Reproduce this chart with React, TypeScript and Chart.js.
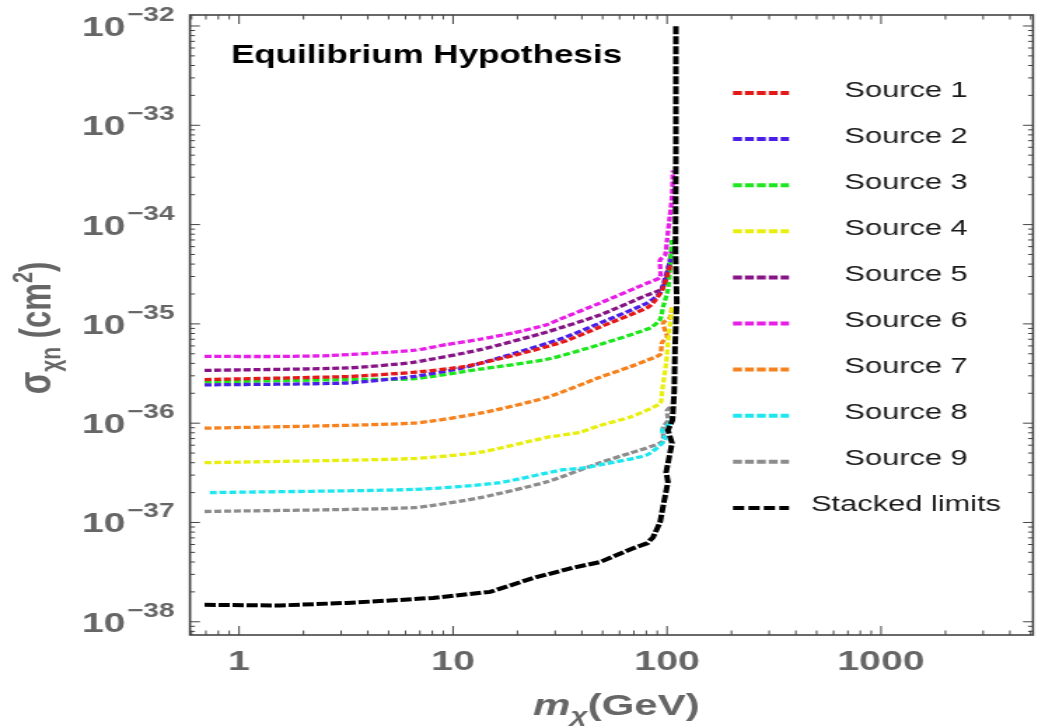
import React, { useEffect, useRef } from "react";
import { Chart, registerables } from "chart.js";

Chart.register(...registerables);

// ---------------- data ----------------
const LABELS = [
  "Source 1", "Source 2", "Source 3", "Source 4", "Source 5",
  "Source 6", "Source 7", "Source 8", "Source 9", "Stacked limits",
];

const source1Mass = [0.69, 3.2, 6.5, 11.1, 19.1, 32.7, 48.6, 80.6, 86, 95, 104];
const source1Sigma = [2.75e-36, 2.95e-36, 3.25e-36, 3.7e-36, 4.8e-36, 6.6e-36, 9.3e-36, 1.45e-35, 1.62e-35, 2.2e-35, 4e-35];

const source2Mass = [0.69, 3.2, 6.5, 11.1, 19.1, 32.7, 48.6, 80.6, 92.7, 96, 104];
const source2Sigma = [2.43e-36, 2.54e-36, 2.95e-36, 3.6e-36, 5.0e-36, 7.2e-36, 1.02e-35, 1.62e-35, 2.04e-35, 2.5e-35, 4.5e-35];

const source3Mass = [0.69, 3.2, 6.5, 13.4, 27.5, 48.6, 83.3, 92.7, 95.8, 101, 103, 105.5];
const source3Sigma = [2.6e-36, 2.75e-36, 2.8e-36, 3.5e-36, 4.4e-36, 6.2e-36, 9.1e-36, 1.1e-35, 1.48e-35, 2.2e-35, 3.5e-35, 7e-35];

const source4Mass = [0.69, 6.5, 13.4, 27.5, 39.2, 48.6, 67.2, 92.7, 94.8, 99, 102, 106];
const source4Sigma = [4.0e-37, 4.4e-37, 5.1e-37, 7.2e-37, 8.1e-37, 9.5e-37, 1.15e-36, 1.58e-36, 2.1e-36, 4e-36, 8e-36, 1.5e-35];

const source5Mass = [0.69, 3.2, 6.5, 13.4, 27.5, 48.6, 80.6, 92.7, 97.9, 101, 106];
const source5Sigma = [3.4e-36, 3.6e-36, 4.1e-36, 5.5e-36, 8.3e-36, 1.23e-35, 1.95e-35, 2.2e-35, 2.6e-35, 3.5e-35, 6e-35];

const source6Mass = [0.69, 1.55, 2.66, 6.5, 9.37, 13.4, 19.1, 27.4, 32.7, 48.6, 80.6, 92.7, 92.7, 97.9, 100, 103, 105.5, 106.6];
const source6Sigma = [4.7e-36, 4.7e-36, 4.8e-36, 5.4e-36, 6.2e-36, 7.0e-36, 8.1e-36, 9.8e-36, 1.15e-35, 1.62e-35, 2.57e-35, 2.95e-35, 4.4e-35, 4.9e-35, 7.0e-35, 1.2e-34, 1.9e-34, 3.5e-34];

const source7Mass = [0.69, 6.5, 13.4, 27.5, 48.6, 67.2, 80.6, 92.7, 94.8, 100, 95.8, 103, 105.5];
const source7Sigma = [8.9e-37, 1.0e-36, 1.26e-36, 1.82e-36, 2.9e-36, 3.7e-36, 4.3e-36, 4.9e-36, 6.5e-36, 7.4e-36, 1.02e-35, 1.15e-35, 1.48e-35];

const source8Mass = [0.73, 6.5, 16.1, 32.7, 39.2, 48.6, 80.6, 97.9, 94.8, 101, 108];
const source8Sigma = [2.0e-37, 2.15e-37, 2.5e-37, 3.4e-37, 3.5e-37, 3.8e-37, 4.8e-37, 6.8e-37, 8.5e-37, 9.5e-37, 1.2e-36];

const source9Mass = [0.69, 6.5, 13.4, 27.5, 48.6, 67.2, 94.8, 95.8, 101, 100, 105.5];
const source9Sigma = [1.29e-37, 1.41e-37, 1.78e-37, 2.57e-37, 4.0e-37, 5.0e-37, 6.5e-37, 9.1e-37, 1.07e-36, 1.35e-36, 1.5e-36];

const stackedMass = [0.69, 1.55, 3.2, 5.65, 8.06, 14.9, 23.6, 36.3, 48.7, 69.4, 81, 86, 92.7, 95.8, 101, 99, 105.5, 101, 106, 108, 109, 111, 109.5, 110, 110];
const stackedSigma = [1.48e-38, 1.46e-38, 1.55e-38, 1.66e-38, 1.74e-38, 2.0e-38, 2.75e-38, 3.5e-38, 4.0e-38, 5.5e-38, 6.2e-38, 7.1e-38, 1.0e-37, 1.45e-37, 2.57e-37, 3.2e-37, 6.3e-37, 8.5e-37, 1.07e-36, 2.1e-36, 5.9e-36, 1.66e-35, 5.5e-35, 5.6e-34, 1.0e-32];

const MASSES = [source1Mass, source2Mass, source3Mass, source4Mass, source5Mass, source6Mass, source7Mass, source8Mass, source9Mass, stackedMass];
const SIGMAS = [source1Sigma, source2Sigma, source3Sigma, source4Sigma, source5Sigma, source6Sigma, source7Sigma, source8Sigma, source9Sigma, stackedSigma];

const X_TICKS = [1, 10, 100, 1000];
const X_TICK_LABELS = ["1", "10", "100", "1000"];
const Y_TICK_EXPONENTS = [-38, -37, -36, -35, -34, -33, -32];
const TITLE = "Equilibrium Hypothesis";

// ---------------- styles / layout ----------------
const COLORS = [
  "#e31818", "#4a1ee6", "#1ee61e", "#e8ef10", "#861486",
  "#e61ee6", "#f5821e", "#1ee6ee", "#8c8c8c", "#000000",
];

const OUT_W = 1038;
const OUT_H = 728;
const W = 741; // internal width, stretched horizontally to OUT_W
const K = OUT_W / W;
const PLOT_LEFT = 190 / K;
const PLOT_RIGHT = 1033 / K;
const PLOT_TOP = 15;
const PLOT_BOTTOM = 635;
const X_MIN = 0.59;
const X_MAX = 5130;
const Y_MIN = 7.36e-39;
const Y_MAX = 1.29e-32;

const FONT = '"Liberation Sans", Arial, Helvetica, sans-serif';
const AXIS_GRAY = "#666666";

type Part = { t: string; font: string; dy: number };

function drawParts(ctx: CanvasRenderingContext2D, parts: Part[], cx: number, baseY: number) {
  let total = 0;
  const widths = parts.map((p) => {
    ctx.font = p.font;
    const w = ctx.measureText(p.t).width;
    total += w;
    return w;
  });
  let x = cx - total / 2;
  ctx.textAlign = "left";
  ctx.textBaseline = "alphabetic";
  parts.forEach((p, i) => {
    ctx.font = p.font;
    ctx.fillText(p.t, x, baseY + p.dy);
    x += widths[i];
  });
}

const decorPlugin = {
  id: "decor",
  afterDraw(chart: any) {
    const ctx: CanvasRenderingContext2D = chart.ctx;
    const { left, right, top, bottom } = chart.chartArea;
    const xs = chart.scales.x;
    const ys = chart.scales.y;
    ctx.save();

    // frame
    ctx.strokeStyle = "#444444";
    ctx.lineWidth = 1.6;
    ctx.strokeRect(left, top, right - left, bottom - top);

    // ticks
    ctx.lineWidth = 1;
    ctx.beginPath();
    for (let d = -1; d <= 4; d++) {
      for (let j = 1; j <= 9; j++) {
        const v = j * Math.pow(10, d);
        if (v <= X_MIN || v >= X_MAX) continue;
        const px = xs.getPixelForValue(v);
        const len = j === 1 ? 9 : 4.5;
        ctx.moveTo(px, bottom);
        ctx.lineTo(px, bottom - len);
        ctx.moveTo(px, top);
        ctx.lineTo(px, top + len);
      }
    }
    for (let d = -39; d <= -32; d++) {
      for (let j = 1; j <= 9; j++) {
        const v = j * Math.pow(10, d);
        if (v <= Y_MIN || v >= Y_MAX) continue;
        const py = ys.getPixelForValue(v);
        const len = (j === 1 ? 10 : 5) / K;
        ctx.moveTo(left, py);
        ctx.lineTo(left + len, py);
        ctx.moveTo(right, py);
        ctx.lineTo(right - len, py);
      }
    }
    ctx.stroke();

    // y tick labels
    ctx.fillStyle = AXIS_GRAY;
    Y_TICK_EXPONENTS.forEach((e) => {
      const py = ys.getPixelForValue(Math.pow(10, e));
      const expStart = 127 / K;
      ctx.font = `bold 20px ${FONT}`;
      ctx.textAlign = "left";
      ctx.textBaseline = "alphabetic";
      ctx.fillText("\u2212" + String(-e), expStart, py - 5);
      ctx.font = `bold 28px ${FONT}`;
      ctx.textAlign = "right";
      ctx.fillText("10", expStart - 1, py + 10);
    });

    // x tick labels
    ctx.font = `bold 28px ${FONT}`;
    ctx.textAlign = "center";
    X_TICKS.forEach((v, i) => {
      const px = xs.getPixelForValue(v);
      ctx.fillText(X_TICK_LABELS[i], px, 670);
    });

    // x axis title
    drawParts(
      ctx,
      [
        { t: "m", font: `italic bold 30px ${FONT}`, dy: 0 },
        { t: "\u03c7", font: `italic bold 21px ${FONT}`, dy: 7 },
        { t: "(GeV)", font: `bold 30px ${FONT}`, dy: 0 },
      ],
      440,
      715
    );

    // y axis title (rotated)
    ctx.save();
    ctx.translate(36, 328);
    ctx.rotate(-Math.PI / 2);
    drawParts(
      ctx,
      [
        { t: "\u03c3", font: `bold 33px ${FONT}`, dy: 0 },
        { t: "\u03c7n", font: `bold 21px ${FONT}`, dy: 7 },
        { t: " (cm", font: `bold 31px ${FONT}`, dy: 0 },
        { t: "2", font: `bold 20px ${FONT}`, dy: -13 },
        { t: ")", font: `bold 31px ${FONT}`, dy: 0 },
      ],
      0,
      0
    );
    ctx.restore();

    // plot title
    ctx.fillStyle = "#000000";
    ctx.font = `bold 25px ${FONT}`;
    ctx.textAlign = "left";
    ctx.fillText(TITLE, 231 / K, 63);

    // legend
    const lineX0 = 733 / K;
    const lineX1 = 789 / K;
    const textCx = 906 / K;
    LABELS.forEach((label, i) => {
      const y = 93 + i * 46.1;
      const isStack = i === LABELS.length - 1;
      ctx.strokeStyle = COLORS[i];
      ctx.lineWidth = 4;
      ctx.setLineDash(isStack ? [8, 3] : [6.4, 2.1]);
      ctx.beginPath();
      ctx.moveTo(lineX0, y);
      ctx.lineTo(lineX1, y);
      ctx.stroke();
      ctx.setLineDash([]);
      ctx.fillStyle = "#1a1a1a";
      ctx.font = `22px ${FONT}`;
      ctx.textAlign = "center";
      ctx.fillText(label, textCx, y + 3.5);
    });

    ctx.restore();
  },
};

export default function App() {
  const ref = useRef<HTMLCanvasElement | null>(null);

  useEffect(() => {
    const canvas = ref.current;
    if (!canvas) return;
    const datasets = LABELS.map((label, i) => {
      const isStack = i === LABELS.length - 1;
      return {
        label,
        data: MASSES[i].map((m, j) => ({ x: m, y: SIGMAS[i][j] })),
        borderColor: COLORS[i],
        backgroundColor: COLORS[i],
        borderWidth: isStack ? 4 : 3.3,
        borderDash: isStack ? [8, 2] : [5, 2],
        showLine: true,
        pointRadius: 0,
        pointHoverRadius: 0,
        fill: false,
        tension: isStack ? 0 : 0.2,
        order: isStack ? 0 : 1 + i,
      };
    });

    const chart = new Chart(canvas, {
      type: "scatter",
      data: { datasets },
      options: {
        responsive: false,
        animation: false,
        devicePixelRatio: 1,
        events: [],
        layout: {
          padding: { left: 0, right: W - PLOT_RIGHT, top: PLOT_TOP, bottom: 0 },
        },
        plugins: {
          legend: { display: false },
          tooltip: { enabled: false },
          title: { display: false },
        },
        scales: {
          x: {
            type: "logarithmic",
            min: X_MIN,
            max: X_MAX,
            ticks: { display: false },
            grid: { display: false },
            border: { display: false },
            afterFit: (s: any) => {
              s.height = OUT_H - PLOT_BOTTOM;
            },
          },
          y: {
            type: "logarithmic",
            min: Y_MIN,
            max: Y_MAX,
            ticks: { display: false },
            grid: { display: false },
            border: { display: false },
            afterFit: (s: any) => {
              s.width = PLOT_LEFT;
            },
          },
        },
      } as any,
      plugins: [decorPlugin],
    });
    return () => chart.destroy();
  }, []);

  return (
    <div style={{ position: "fixed", left: 0, top: 0, width: OUT_W, height: OUT_H, background: "#fff" }}>
      <canvas
        ref={ref}
        width={W}
        height={OUT_H}
        style={{ width: OUT_W + "px", height: OUT_H + "px", display: "block" }}
      />
    </div>
  );
}
